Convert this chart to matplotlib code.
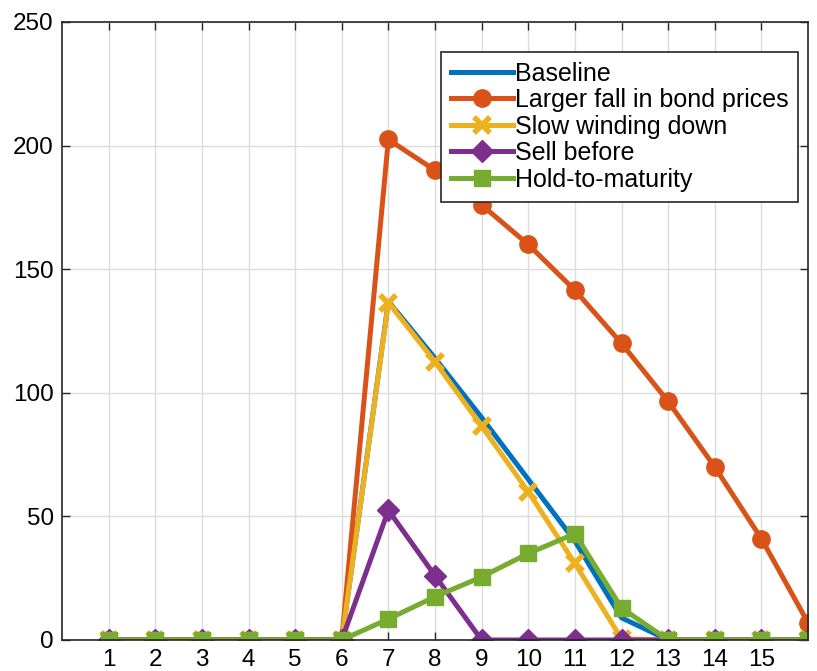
import numpy as np
import matplotlib
matplotlib.use('Agg')
import matplotlib.pyplot as plt

plt.rcParams['font.family'] = ['Liberation Sans', 'DejaVu Sans']

# periods and series values
periods = list(range(1, 17))
baseline = [0, 0, 0, 0, 0, 0, 137, 114, 90, 65, 40, 9, 0, 0, 0, 0]
larger_fall = [0, 0, 0, 0, 0, 0, 202.5, 190, 176, 160, 141.5, 120, 96.5, 70, 41, 7]
slow_wind = [0, 0, 0, 0, 0, 0, 136.5, 112.5, 86.5, 60, 31, 0.5, 0, 0, 0, 0]
sell_before = [0, 0, 0, 0, 0, 0, 52.5, 26, 0, 0, 0, 0, 0, 0, 0, 0]
hold_to_mat = [0, 0, 0, 0, 0, 0, 8.5, 17.5, 25.5, 35, 43, 13, 0, 0, 0, 0]

xtick_vals = list(range(1, 16))
ytick_vals = [0, 50, 100, 150, 200, 250]

fig = plt.figure(figsize=(8.17, 6.71), dpi=100)
ax = fig.add_axes([62/817, 31/671, (808-62)/817, (640-22)/671])

lw = 3.6
ax.plot(periods, baseline, color='#0072BD', lw=lw, label='Baseline')
ax.plot(periods, larger_fall, color='#D95319', lw=lw, marker='o', ms=11.5,
        mew=2, label='Larger fall in bond prices')
ax.plot(periods, slow_wind, color='#EDB120', lw=lw, marker='x', ms=11,
        mew=4, label='Slow winding down')
ax.plot(periods, sell_before, color='#7E2F8E', lw=lw, marker='D', ms=11,
        label='Sell before')
ax.plot(periods, hold_to_mat, color='#77AC30', lw=lw, marker='s', ms=11,
        label='Hold-to-maturity')

ax.set_xlim(0, 16)
ax.set_ylim(0, 250)
ax.set_xticks(xtick_vals)
ax.set_yticks(ytick_vals)
ax.tick_params(direction='in', top=True, right=True, length=6, width=1,
               labelsize=17.5, colors='#262626', labelcolor='black', pad=6)
ax.tick_params(axis='x', pad=6.5)
ax.grid(True, color='#dcdcdc', lw=1)
ax.set_axisbelow(True)
for s in ax.spines.values():
    s.set_color('#262626')
    s.set_linewidth(1.2)

leg = ax.legend(loc='upper right', bbox_to_anchor=(0.987, 0.952), fontsize=18,
                handlelength=2.5, handletextpad=0.05, borderpad=0.4,
                labelspacing=0.1, fancybox=False, framealpha=1,
                borderaxespad=0)
leg.get_frame().set_edgecolor('#262626')
leg.get_frame().set_linewidth(1.2)

plt.savefig('out.png', dpi=100)
